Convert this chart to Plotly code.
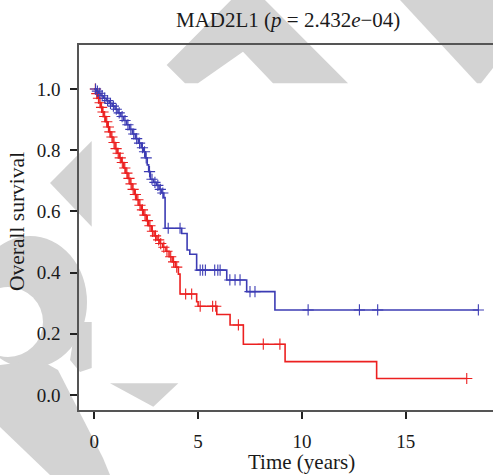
import plotly.graph_objects as go

# ---------------- data ----------------
# High-expression group (red): step times and survival after each step
red_time = [0, 0.08, 0.15, 0.22, 0.30, 0.38, 0.46, 0.55, 0.63, 0.72, 0.80, 0.90, 1.00,
            1.10, 1.20, 1.30, 1.42, 1.52, 1.62, 1.72, 1.82, 1.93, 2.04, 2.15, 2.26,
            2.38, 2.50, 2.62, 2.75, 2.88, 3.02, 3.16, 3.30, 3.45, 3.60, 3.75, 3.90,
            4.05, 4.13, 4.93, 5.00, 5.90, 6.54, 7.18, 9.19, 13.60, 17.94]
red_surv = [1.0, 0.985, 0.970, 0.955, 0.940, 0.925, 0.910, 0.893, 0.876, 0.860, 0.843,
            0.825, 0.805, 0.790, 0.775, 0.760, 0.742, 0.725, 0.708, 0.690, 0.672, 0.655,
            0.638, 0.620, 0.605, 0.588, 0.570, 0.553, 0.535, 0.520, 0.507, 0.495, 0.483,
            0.470, 0.452, 0.435, 0.418, 0.395, 0.330, 0.305, 0.290, 0.263, 0.229, 0.166,
            0.109, 0.054, 0.054]
red_censor = [0.05, 0.12, 0.20, 0.28, 0.35, 0.42, 0.50, 0.60, 0.68, 0.75, 0.85, 0.95,
              1.05, 1.15, 1.25, 1.35, 1.47, 1.57, 1.67, 1.77, 1.87, 1.98, 2.10, 2.20,
              2.32, 2.44, 2.56, 2.68, 2.80, 2.95, 3.10, 3.20, 3.35, 3.50, 3.68, 3.82,
              3.97, 4.40, 4.69, 5.10, 5.70, 5.85, 6.94, 8.14, 8.94, 17.94]

# Low-expression group (blue)
blue_time = [0, 0.10, 0.20, 0.32, 0.45, 0.58, 0.72, 0.86, 1.00, 1.14, 1.28, 1.42, 1.56,
             1.70, 1.84, 1.98, 2.12, 2.26, 2.38, 2.46, 2.55, 2.62, 2.70, 2.85, 3.00,
             3.12, 3.25, 3.35, 3.41, 4.21, 4.47, 4.60, 4.93, 6.38, 7.34, 8.70, 18.50]
blue_surv = [1.0, 0.993, 0.986, 0.978, 0.970, 0.962, 0.953, 0.944, 0.934, 0.922, 0.910,
             0.897, 0.883, 0.868, 0.853, 0.838, 0.823, 0.808, 0.795, 0.775, 0.752, 0.730,
             0.705, 0.695, 0.685, 0.672, 0.660, 0.645, 0.545, 0.528, 0.474, 0.460, 0.408,
             0.376, 0.338, 0.278, 0.278]
blue_censor = [0.06, 0.15, 0.26, 0.38, 0.50, 0.64, 0.78, 0.92, 1.06, 1.20, 1.34, 1.48,
               1.62, 1.76, 1.90, 2.04, 2.18, 2.32, 2.42, 2.50, 2.66, 2.78, 2.92, 3.06,
               3.18, 3.30, 3.56, 4.13, 5.10, 5.22, 5.35, 5.80, 5.95, 6.06, 6.53, 6.78,
               7.02, 7.50, 7.74, 10.30, 12.77, 13.65, 18.50]

x_ticks = [0, 5, 10, 15]
y_ticks = [0.0, 0.2, 0.4, 0.6, 0.8, 1.0]
y_tick_text = ["0.0", "0.2", "0.4", "0.6", "0.8", "1.0"]

RED = "#ec2020"
BLUE = "#3c3cb4"
GRAY = "#d3d3d3"
FONT = "Liberation Serif"

W, H = 493, 475
ML, MR, MT, MB = 79, 0, 45, 65


def surv_at(times, survs, t):
    """Value of the step function at time t."""
    v = survs[0]
    for ti, si in zip(times, survs):
        if ti <= t:
            v = si
        else:
            break
    return v


def px(x):
    return (x - ML) / (W - ML - MR)


def py(y):
    return (H - MB - y) / (H - MT - MB)


def poly(points):
    d = "M " + " L ".join(f"{px(a):.4f},{py(b):.4f}" for a, b in points) + " Z"
    return dict(type="path", path=d, xref="paper", yref="paper",
                fillcolor=GRAY, line=dict(width=0), layer="below")


def ellipse(cx, cy, rx, ry, color):
    return dict(type="circle", xref="paper", yref="paper",
                x0=px(cx - rx), x1=px(cx + rx), y0=py(cy + ry), y1=py(cy - ry),
                fillcolor=color, line=dict(width=0), layer="below")


fig = go.Figure()

for times, survs, cens, col in [(red_time, red_surv, red_censor, RED),
                                (blue_time, blue_surv, blue_censor, BLUE)]:
    fig.add_trace(go.Scatter(x=times, y=survs, mode="lines",
                             line=dict(shape="hv", color=col, width=1.6),
                             hoverinfo="skip", showlegend=False))
    fig.add_trace(go.Scatter(x=cens, y=[surv_at(times, survs, t) for t in cens],
                             mode="markers",
                             marker=dict(symbol="cross-thin", size=8,
                                         line=dict(width=1.1, color=col)),
                             hoverinfo="skip", showlegend=False))

# background watermark pieces (light gray)
shapes = [
    poly([(166.7, 65), (248, -17), (348, 83.3), (273, 83.3), (243, 51.7), (198, 83.3), (185, 83.3)]),
    poly([(400, 0), (493, 0), (493, 68), (481, 83.3), (477, 83.3)]),
    poly([(50, 183), (91.7, 141), (91.7, 226.7)]),
    ellipse(30, 302, 57, 66, GRAY),
    poly([(76, 322), (91.7, 322), (91.7, 368), (80, 372), (70, 360)]),
    poly([(0, 365), (40, 360), (58, 370), (103, 458), (110, 475), (50, 475), (0, 427)]),
    ellipse(8, 322, 35, 35, "white"),
    poly([(110, 383.3), (178.3, 383.3), (153.3, 406.7)]),
]

annotations = [
    dict(text="MAD2L1 (<i>p</i> = 2.432<i>e</i>\u221204)", x=px(287.5), y=py(20),
         xref="paper", yref="paper", showarrow=False, xanchor="center", yanchor="middle",
         font=dict(family=FONT, size=21, color="#1a1a1a")),
    dict(text="Time (years)", x=px(301), y=py(462), xref="paper", yref="paper",
         showarrow=False, xanchor="center", yanchor="middle",
         font=dict(family=FONT, size=21, color="#1a1a1a")),
    dict(text="Overall survival", x=px(17.5), y=py(221.5), xref="paper", yref="paper",
         showarrow=False, xanchor="center", yanchor="middle", textangle=-90,
         font=dict(family=FONT, size=21.5, color="#1a1a1a")),
]

fig.update_layout(
    width=W, height=H,
    margin=dict(l=ML, r=MR, t=MT, b=MB, pad=0),
    paper_bgcolor="white", plot_bgcolor="white",
    shapes=shapes, annotations=annotations,
    font=dict(family=FONT, size=19, color="#1a1a1a"),
    xaxis=dict(range=[-0.737, 19.205], tickvals=x_ticks, ticks="outside", ticklen=7,
               tickwidth=2, tickcolor="#222", showline=True, linecolor="#555",
               linewidth=1.6, mirror=True, showgrid=False, zeroline=False,
               ticklabelstandoff=6, tickfont=dict(family=FONT, size=19)),
    yaxis=dict(range=[-0.049, 1.1438], tickvals=y_ticks, ticktext=y_tick_text,
               ticks="outside", ticklen=7, tickwidth=2, tickcolor="#222",
               showline=True, linecolor="#555", linewidth=1.6, showgrid=False,
               zeroline=False, ticklabelstandoff=6, tickfont=dict(family=FONT, size=19)),
)

fig.write_html("out.html", config={"displayModeBar": False},
               post_script="document.body.style.margin='0';document.body.style.overflow='hidden';")
